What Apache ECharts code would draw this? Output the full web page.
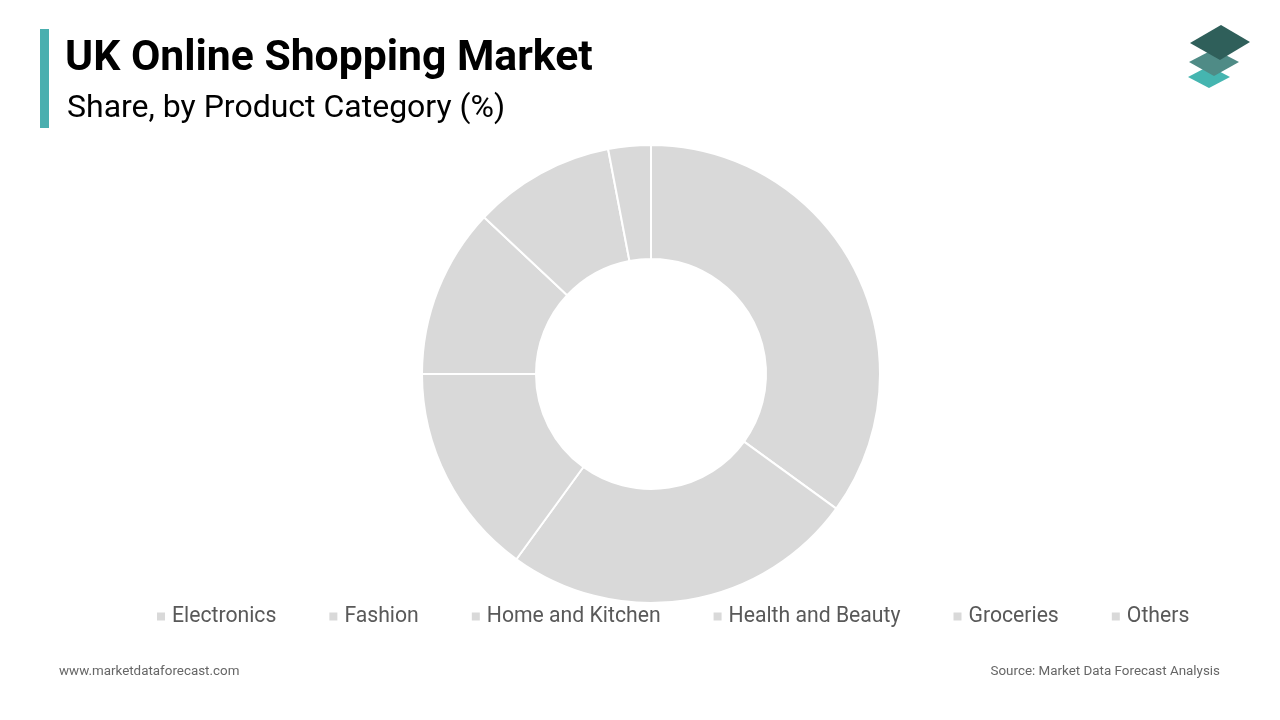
<!DOCTYPE html>
<html>
<head>
<meta charset="utf-8">
<script src="https://cdn.jsdelivr.net/npm/echarts@6/dist/echarts.min.js"></script>
<style>html,body{margin:0;padding:0;background:#fff;}#c{width:1280px;height:720px;}</style>
</head>
<body>
<div id="c"></div>
<script>
const categories = ["Electronics", "Fashion", "Home and Kitchen", "Health and Beauty", "Groceries", "Others"];
const shares = [35, 25, 15, 12, 10, 3];

const chart = echarts.init(document.getElementById('c'));
const FONT = 'Roboto, "Noto Sans", sans-serif';
chart.setOption({
  backgroundColor: '#ffffff',
  animation: false,
  color: ['#d9d9d9'],
  graphic: [
    { type: 'rect', shape: { x: 40, y: 29, width: 9, height: 99 }, style: { fill: '#4aafaf' } },
    { type: 'text', left: 65, top: 38, style: { text: 'UK Online Shopping Market', font: 'bold 42.7px ' + FONT, fill: '#000' } },
    { type: 'text', left: 67, top: 93, style: { text: 'Share, by Product Category (%)', font: '32px ' + FONT, fill: '#000' } },
    { type: 'polygon', shape: { points: [[1188, 77], [1209, 66], [1230, 77], [1209, 88]] }, style: { fill: '#45b5b0' } },
    { type: 'polygon', shape: { points: [[1189, 62], [1214, 49], [1239, 62], [1214, 76]] }, style: { fill: '#4f8b86' } },
    { type: 'polygon', shape: { points: [[1190, 43], [1221, 25], [1250, 42], [1220, 60]] }, style: { fill: '#2f5f5a' } },
    { type: 'text', left: 59, top: 665, style: { text: 'www.marketdataforecast.com', font: '13.4px ' + FONT, fill: '#666' } },
    { type: 'text', right: 60, top: 665, style: { text: 'Source: Market Data Forecast Analysis', font: '13.4px ' + FONT, fill: '#666', align: 'right' } }
  ],
  legend: {
    data: categories,
    left: 150,
    top: 601,
    itemWidth: 10,
    itemHeight: 10,
    itemGap: 51,
    icon: 'rect',
    textStyle: { fontFamily: FONT, fontSize: 21.2, color: '#595959', padding: [0, 0, 0, 1] }
  },
  series: [{
    type: 'pie',
    center: [651, 374],
    radius: [115, 229],
    startAngle: 90,
    clockwise: true,
    label: { show: false },
    labelLine: { show: false },
    emphasis: { disabled: true },
    itemStyle: { borderColor: '#ffffff', borderWidth: 2, color: '#d9d9d9' },
    data: categories.map((n, i) => ({ name: n, value: shares[i] }))
  }]
});
</script>
</body>
</html>
